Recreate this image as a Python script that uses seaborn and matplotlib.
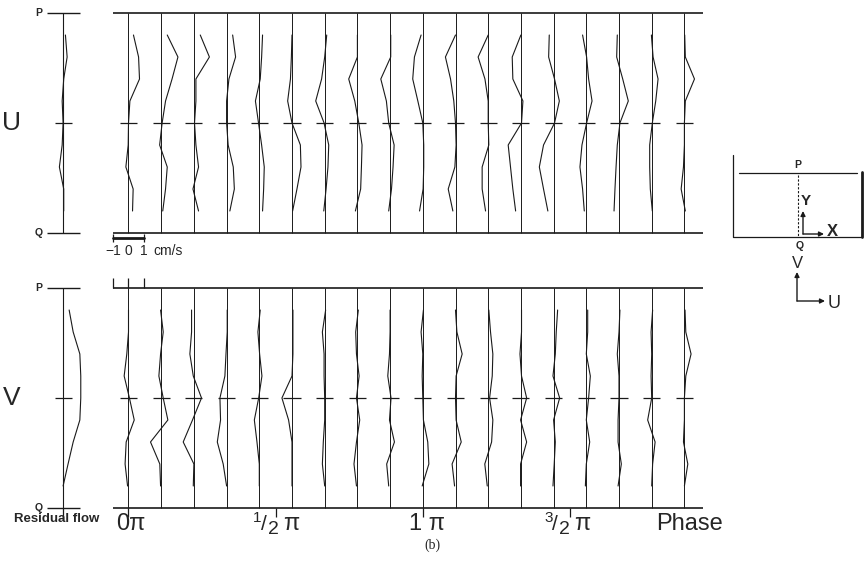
import matplotlib
matplotlib.use("Agg")
import matplotlib.pyplot as plt
import pandas as pd
import seaborn as sns

sns.set_theme(style="white")
plt.rcParams["font.family"] = ["Liberation Sans", "DejaVu Sans"]

# phase of each profile in degrees, depth levels (Q = 0, P = 1)
phase_deg = [0, 20, 40, 60, 80, 100, 120, 140, 160, 180, 200, 220, 240, 260, 280, 300, 320, 340]
depth = [0.9, 0.8, 0.7, 0.6, 0.5, 0.4, 0.3, 0.2, 0.1]

# U component (cm/s), one list per phase, top to bottom
u_profiles = [
    [0.32, 0.65, 0.71, 0.09, 0.00, -0.02, -0.17, 0.30, 0.26],
    [0.39, 1.08, 0.70, 0.28, 0.06, -0.10, 0.39, 0.28, 0.10],
    [0.41, 1.00, 0.13, 0.13, 0.04, 0.13, 0.30, -0.06, 0.30],
    [0.39, 0.58, 0.15, 0.00, 0.00, 0.10, 0.43, 0.50, 0.21],
    [0.21, 0.15, 0.06, -0.25, -0.05, 0.15, 0.32, 0.28, 0.21],
    [0.00, -0.04, -0.10, -0.28, 0.00, 0.54, 0.58, 0.32, 0.04],
    [0.13, 0.00, -0.20, -0.58, -0.04, 0.26, 0.21, 0.09, -0.06],
    [0.00, 0.00, -0.56, -0.17, 0.09, 0.30, 0.26, 0.21, -0.13],
    [0.04, 0.04, -0.60, -0.24, -0.09, 0.26, 0.19, 0.09, -0.09],
    [-0.11, -0.54, -0.65, -0.32, 0.00, 0.06, 0.06, 0.02, -0.21],
    [0.00, -0.65, -0.32, -0.11, 0.00, 0.04, -0.04, -0.47, -0.17],
    [0.00, -0.65, -0.21, 0.00, 0.00, 0.04, -0.39, -0.39, -0.17],
    [0.00, -0.56, -0.52, 0.13, 0.04, -0.82, -0.67, -0.52, -0.34],
    [-0.28, -0.32, 0.06, 0.37, 0.06, -0.65, -0.92, -0.65, -0.37],
    [-0.24, 0.02, 0.15, 0.37, 0.02, -0.28, -0.41, -0.24, -0.13],
    [-0.11, -0.15, 0.24, 0.60, 0.06, -0.11, -0.19, -0.26, -0.32],
    [-0.02, 0.09, 0.41, 0.26, 0.04, -0.13, -0.13, -0.09, 0.04],
    [0.02, 0.06, 0.65, 0.06, 0.00, 0.00, -0.06, -0.21, 0.06],
]

# V component (cm/s)
v_profiles = [
    [0.00, 0.00, -0.11, -0.28, 0.06, 0.37, -0.15, -0.22, -0.06],
    [-0.04, 0.13, -0.04, -0.15, 0.13, 0.43, -0.69, -0.09, -0.04],
    [-0.15, -0.15, -0.26, -0.04, 0.49, -0.09, -0.69, 0.00, -0.04],
    [0.04, 0.04, -0.04, -0.11, -0.43, -0.39, -0.60, -0.22, 0.00],
    [0.06, -0.09, 0.02, 0.17, -0.04, -0.32, -0.15, 0.00, 0.00],
    [0.06, 0.06, 0.06, 0.00, -0.65, -0.22, 0.00, 0.00, 0.00],
    [0.06, -0.15, -0.04, -0.04, 0.00, 0.00, -0.09, -0.15, 0.00],
    [0.06, -0.11, -0.06, 0.11, -0.06, 0.15, -0.06, -0.22, -0.06],
    [0.00, 0.00, -0.04, -0.15, 0.06, -0.04, 0.28, -0.22, -0.09],
    [0.04, -0.11, 0.00, -0.04, 0.00, 0.04, 0.32, 0.39, -0.04],
    [0.00, 0.09, 0.43, 0.04, 0.00, 0.04, 0.37, -0.22, -0.06],
    [0.04, 0.15, 0.30, 0.26, 0.09, 0.30, 0.22, -0.22, -0.06],
    [0.04, 0.04, -0.06, 0.04, 0.37, -0.02, 0.37, -0.02, -0.02],
    [0.26, 0.17, 0.11, -0.04, 0.39, 0.00, 0.11, 0.04, -0.04],
    [0.09, 0.09, 0.00, 0.26, 0.15, 0.00, 0.22, 0.00, -0.06],
    [0.06, 0.00, -0.11, 0.00, 0.00, -0.06, -0.06, 0.15, -0.06],
    [0.06, -0.04, 0.00, -0.04, 0.00, -0.26, 0.22, 0.06, 0.00],
    [0.04, 0.09, 0.43, 0.09, 0.00, 0.00, -0.06, 0.22, 0.00],
]

u_residual = [0.15, 0.26, 0.04, -0.06, 0.00, -0.06, -0.24, 0.04, 0.04]
v_residual = [0.39, 0.65, 1.08, 1.14, 1.14, 1.08, 0.65, 0.32, 0.00]

phase_ticks = [0, 90, 180, 270]
# (numerator, denominator) of each phase label, in units of pi
phase_fracs = [("0", None), ("1", "2"), ("1", None), ("3", "2")]
scale_ticks = [-1, 0, 1]

# layout helpers (figure is 864 x 575 px)
W, H = 864, 575
PX0, PX_PER_DEG = 128.5, 1.635
DEG_PER_CMS = 9.48
RES_X = -40.0
PT = 0.72  # points per pixel


def px2deg(px):
    return (px - PX0) / PX_PER_DEG


def to_long(profiles, positions):
    rows = []
    for k, (pos, prof) in enumerate(zip(positions, profiles)):
        for z, val in zip(depth, prof):
            rows.append({"profile": k, "depth": z, "x": pos + val * DEG_PER_CMS})
    return pd.DataFrame(rows)


fig = plt.figure(figsize=(W / 100, H / 100), dpi=100)
fig.patch.set_facecolor("white")


def panel(top_px, profiles, residual, label):
    q_px = top_px + 220
    ax = fig.add_axes([0, 1 - q_px / H, 1, 220 / H])
    ax.set_xlim(px2deg(0), px2deg(W))
    ax.set_ylim(0, 1)
    ax.axis("off")
    kw = dict(color="k", clip_on=False)
    ax.hlines([0, 1], px2deg(113), px2deg(703), lw=1.2, **kw)
    ax.vlines(phase_deg, 0, 1, lw=0.7, **kw)
    ax.hlines([0.5] * len(phase_deg), [p - 5.2 for p in phase_deg],
              [p + 5.2 for p in phase_deg], lw=0.9, **kw)
    df = to_long(profiles, phase_deg)
    sns.lineplot(data=df, x="x", y="depth", units="profile", estimator=None,
                 sort=False, color="k", lw=0.8, ax=ax, legend=False)
    # residual flow column
    ax.vlines(RES_X, 0, 1, lw=0.8, **kw)
    ax.hlines([0, 1], px2deg(47), px2deg(80), lw=1.0, **kw)
    ax.hlines(0.5, RES_X - 5.2, RES_X + 5.2, lw=0.9, **kw)
    rdf = to_long([residual], [RES_X])
    sns.lineplot(data=rdf, x="x", y="depth", units="profile", estimator=None,
                 sort=False, color="k", lw=0.8, ax=ax, legend=False)
    ax.text(px2deg(39), 1, "P", ha="center", va="center", fontsize=7.5, weight="bold")
    ax.text(px2deg(39), 0, "Q", ha="center", va="center", fontsize=7.5, weight="bold")
    ax.text(px2deg(12), 0.5, label, ha="center", va="center", fontsize=19)
    ax.set_xlabel("")
    ax.set_ylabel("")
    return ax


ax_u = panel(13, u_profiles, u_residual, "U")
ax_v = panel(288, v_profiles, v_residual, "V")

# velocity scale bar under U panel
sx = [t * DEG_PER_CMS for t in scale_ticks]
ax_u.plot([sx[0], sx[-1]], [-0.025, -0.025], color="k", lw=2.0, clip_on=False)
ax_u.vlines([sx[0], sx[-1]], -0.04, -0.005, color="k", lw=0.9, clip_on=False)
for t, x in zip(scale_ticks, sx):
    ax_u.text(x, -0.08, str(t).replace("-", "−"), ha="center", va="center", fontsize=10)
ax_u.text(px2deg(153), -0.08, "cm/s", ha="left", va="center", fontsize=10)

# scale marks above V panel
ax_v.vlines(sx, 1, 1.045, color="k", lw=0.9, clip_on=False)

# phase axis under V panel
ax_v.vlines(phase_ticks, -0.04, 0, color="k", lw=0.9, clip_on=False)
ax_v.vlines(RES_X, -0.055, 0, color="k", lw=0.9, clip_on=False)


def phase_label(x, num, den):
    """Write n/d pi under the phase axis, the fraction set as in the original."""
    y = -0.075
    off = dict(textcoords="offset points", ha="left", va="center",
               annotation_clip=False)
    if den is None:
        ax_v.annotate(num + " π" if num != "0" else "0π", (x, y), xytext=(-2 * PT, 0),
                      fontsize=17, **off)
        return
    ax_v.annotate(num, (x, y), xytext=(-13 * PT, 6 * PT), fontsize=11, **off)
    ax_v.annotate("/", (x, y), xytext=(-5 * PT, 0), fontsize=15, **off)
    ax_v.annotate(den, (x, y), xytext=(2 * PT, -5 * PT), fontsize=14, **off)
    ax_v.annotate("π", (x, y), xytext=(17 * PT, 0), fontsize=17, **off)


label_px = [118, 266, 411, 557]
for px, (num, den) in zip(label_px, phase_fracs):
    phase_label(px2deg(px), num, den)
ax_v.text(px2deg(690), -0.075, "Phase", ha="center", va="center", fontsize=17)
ax_v.text(px2deg(57), -0.05, "Residual flow", ha="center", va="center",
          fontsize=9.5, weight="bold")
fig.text(432 / W, 1 - 545 / H, "(b)", ha="center", va="center", fontsize=10,
         family="Liberation Serif")

# coordinate sketch on the right
sk = fig.add_axes([725 / W, 1 - 315 / H, 139 / W, 170 / H])
sk.set_xlim(725, 864)
sk.set_ylim(315, 145)
sk.axis("off")
sk.plot([733, 733, 862], [155, 237, 237], color="k", lw=0.9)
sk.plot([862, 862], [172, 237], color="k", lw=2.0)
sk.plot([739, 857], [173, 173], color="k", lw=0.9)
sk.plot([798, 798], [175, 237], color="k", lw=0.8, ls=(0, (2, 1.5)))
sk.text(798, 165, "P", ha="center", va="center", fontsize=7.5, weight="bold")
sk.text(800, 246, "Q", ha="center", va="center", fontsize=7.5, weight="bold")
arrow = dict(arrowstyle="-|>", color="k", lw=1.0, mutation_scale=7, shrinkA=0, shrinkB=0)
sk.annotate("", xy=(803, 211), xytext=(803, 234), arrowprops=arrow)
sk.annotate("", xy=(824, 234), xytext=(803, 234), arrowprops=arrow)
sk.text(806, 201, "Y", ha="center", va="center", fontsize=11, weight="bold")
sk.text(832, 231, "X", ha="center", va="center", fontsize=12, weight="bold")
sk.annotate("", xy=(797, 272), xytext=(797, 301), arrowprops=arrow)
sk.annotate("", xy=(825, 301), xytext=(797, 301), arrowprops=arrow)
sk.text(797, 264, "V", ha="center", va="center", fontsize=12)
sk.text(834, 303, "U", ha="center", va="center", fontsize=13)

fig.savefig("out.png", dpi=100, facecolor="white")
